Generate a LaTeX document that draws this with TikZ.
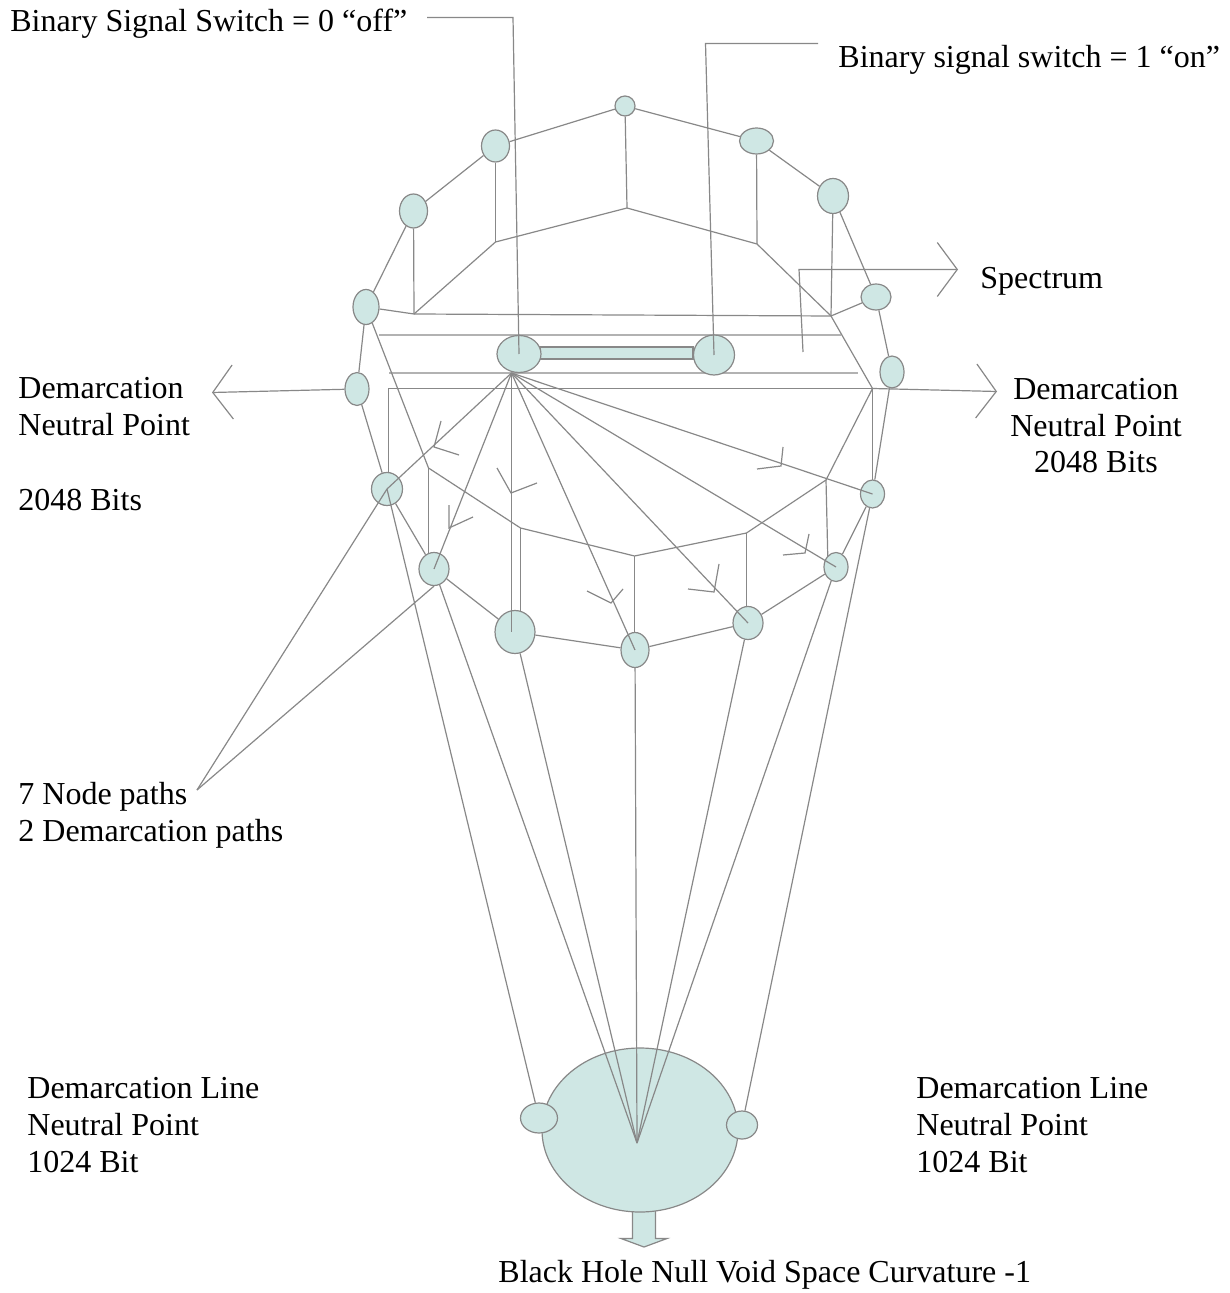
\documentclass[tikz,border=0pt]{standalone}
\usepackage{fontspec}
\setmainfont{Liberation Serif}
\usetikzlibrary{shapes.geometric,arrows.meta,backgrounds}
\definecolor{cellfill}{RGB}{207,231,228}
\definecolor{wire}{RGB}{136,136,136}
\definecolor{railgray}{RGB}{178,178,178}
\begin{document}
\begin{tikzpicture}[x=0.5pt,y=-0.5pt]
	\tikzstyle{cell}=[ellipse,draw=wire,fill=cellfill,line width=0.6pt,inner sep=0pt]
	\tikzstyle{fil}=[draw=wire,line width=0.6pt]
	\tikzstyle{rail}=[draw=railgray,line width=1pt]
	\tikzstyle{lbl}=[inner sep=0pt,font=\fontsize{16}{18.3}\selectfont]
	\tikzstyle{barb}=[-{Straight Barb[length=10pt,width=27pt]}]
	\useasboundingbox (0,0) rectangle (1229,1293);
	% anneau du haut
	\node[cell,minimum width=10pt,minimum height=10pt] (etop) at (625,106) {};
	\node[cell,minimum width=14pt,minimum height=16pt] (eul1) at (495.5,146) {};
	\node[cell,minimum width=17pt,minimum height=13pt] (eur1) at (756.5,141) {};
	\node[cell,minimum width=14pt,minimum height=17pt] (eul2) at (413.5,211) {};
	\node[cell,minimum width=15.5pt,minimum height=17.5pt] (eur2) at (833,196) {};
	\node[cell,minimum width=13pt,minimum height=17.5pt] (eul3) at (366,307) {};
	\node[cell,minimum width=15pt,minimum height=13pt] (eur3) at (876,297) {};
	\node[cell,minimum width=12pt,minimum height=16.5pt] (el4) at (357,389) {};
	\node[cell,minimum width=12pt,minimum height=16pt] (er4) at (892,372) {};
	% anneau du bas
	\node[cell,minimum width=15.5pt,minimum height=16.5pt] (el5) at (387,489) {};
	\node[cell,minimum width=12pt,minimum height=14pt] (er5) at (872.5,494) {};
	\node[cell,minimum width=15pt,minimum height=16.5pt] (el6) at (434,569) {};
	\node[cell,minimum width=20pt,minimum height=21.5pt] (eb1) at (515,632) {};
	\node[cell,minimum width=14pt,minimum height=17.5pt] (eb2) at (635,650) {};
	\node[cell,minimum width=15pt,minimum height=16.5pt] (eb3) at (748,623) {};
	\node[cell,minimum width=12pt,minimum height=14.5pt] (eb4) at (836,567) {};
	% interrupteur
	\draw[fill=cellfill,draw=wire,line width=1pt] (540,347) rectangle (693,359);
	\node[cell,minimum width=22pt,minimum height=18.5pt] (swl) at (519,354) {};
	\node[cell,minimum width=20.5pt,minimum height=20pt] (swr) at (714,355) {};
	% trou noir
	\draw[fill=cellfill,draw=wire,line width=0.6pt] (632.5,1205) -- (632.5,1238.5) -- (621,1238.5) -- (644,1247) -- (667,1238.5) -- (655.5,1238.5) -- (655.5,1205);
	\node[cell,minimum width=98pt,minimum height=82pt] (hole) at (640,1130) {};
	\node[cell,minimum width=18.5pt,minimum height=15pt] (bl) at (539,1118) {};
	\node[cell,minimum width=15.5pt,minimum height=14pt] (br) at (742,1125) {};

	\coordinate (ptop) at (627,208);
	\coordinate (pul1) at (495.5,242);
	\coordinate (pur1) at (757,244);
	\coordinate (pul2) at (414,314);
	\coordinate (pur2) at (831,316);
	\coordinate (ql) at (388.5,388.5);
	\coordinate (qr) at (872.5,388.5);
	\coordinate (pl) at (428.5,468);
	\coordinate (pb1) at (520.5,528);
	\coordinate (pb2) at (634.5,556);
	\coordinate (pb3) at (746.5,533);
	\coordinate (pb4) at (826,480);
	\coordinate (hub) at (511.5,373);
	\coordinate (sink) at (637,1143);
	\coordinate (tipL) at (212,392.5);
	\coordinate (tipR) at (997,391.5);
	\coordinate (tipS) at (958,269.5);
	\coordinate (specA) at (803,352);
	\coordinate (specB) at (799,269.5);
	\coordinate (offA) at (427,17.5);
	\coordinate (offB) at (513,17.5);
	\coordinate (onA) at (818,43.5);
	\coordinate (onB) at (705.5,43.5);
	\coordinate (np) at (197,790);

	\begin{scope}[on background layer]
		\draw[fil] (eul3) -- (eul2) -- (eul1) -- (etop) -- (eur1) -- (eur2) -- (eur3) -- (er4) -- (er5) -- (eb4) -- (eb3) -- (eb2) -- (eb1) -- (el6) -- (el5) -- (el4) -- (eul3);
		\draw[fil] (eul1) -- (pul1);
		\draw[fil] (eul2) -- (pul2);
		\draw[fil] (etop) -- (ptop);
		\draw[fil] (eur1) -- (pur1);
		\draw[fil] (eur2) -- (pur2);
		\draw[fil] (eul3) -- (pul2) -- (pul1) -- (ptop) -- (pur1) -- (pur2) -- (qr);
		\draw[fil] (eur3) -- (pur2) -- (pul2);
		\draw[rail] (379,335) -- (841,335);
		\draw[rail] (389,373) -- (858,373);
		\draw[fil] (ql |- el5.center) -- (ql) -- (qr) -- (qr |- er5.center);
		\draw[fil] (eul3) -- (pl) -- (pb1) -- (pb2) -- (pb3) -- (pb4) -- (qr);
		\draw[fil] (pl) -- (pl |- el6.center);
		\draw[fil] (pb1) -- (pb1 |- eb1.center);
		\draw[fil] (pb2) -- (pb2 |- eb2.center);
		\draw[fil] (pb3) -- (pb3 |- eb3.center);
		\draw[fil] (pb4) -- ([xshift=-4pt]eb4.center);
		\draw[fil,barb] (el4) -- (tipL);
		\draw[fil,barb] (qr) -- (tipR);
		\draw[fil,barb] (specA) -- (specB) -- (tipS);
	\end{scope}

	% chemins
	\foreach \n in {el5,el6,eb2,eb3,eb4,er5}
		\draw[fil] (hub) -- (\n.center);
	\draw[fil] (hub) -- (hub |- eb1.center);
	\foreach \ax/\ay/\bx/\by/\cx/\cy in {434/447/441/421/459/455, 449/528/449/505/473/517, 511/493/497/468/537/483, 611/603/587/591/623/589, 714/592/688/589/719/564, 805/553/783/555/809/534, 781/466/757/469/783/447}
		\draw[fil] (\bx,\by) -- (\ax,\ay) -- (\cx,\cy);
	\draw[fil] (offA) -- (offB) -- (swl.center);
	\draw[fil] (onA) -- (onB) -- (swr.center);
	\draw[fil] (np) -- (el5.center);
	\draw[fil] (np) -- (el6.south);
	\draw[fil] (el5.center) -- (bl);
	\draw[fil] (er5) -- (br);
	\foreach \n in {el6,eb1,eb2,eb3,eb4}
		\draw[fil] (\n) -- (sink);

	% textes (base = derniere ligne)
	\node[lbl,anchor=base west] (txtoff) at (10,32) {Binary Signal Switch = 0 “off”};
	\node[lbl,anchor=base west] (txton) at (838,68) {Binary signal switch = 1 “on”};
	\node[lbl,anchor=base west] (txtspec) at (980,289) {Spectrum};
	\node[lbl,anchor=base west,align=left] (txtdl) at (18,510) {Demarcation\\Neutral Point\\[19pt]2048 Bits};
	\node[lbl,anchor=base,align=center] (txtdr) at (1096,473) {Demarcation\\Neutral Point\\2048 Bits};
	\node[lbl,anchor=base west,align=left] (txtpaths) at (18,841) {7 Node paths\\2 Demarcation paths};
	\node[lbl,anchor=base west,align=left] (txtll) at (27,1172) {Demarcation Line\\Neutral Point\\1024 Bit};
	\node[lbl,anchor=base west,align=left] (txtlr) at (916,1172) {Demarcation Line\\Neutral Point\\1024 Bit};
	\node[lbl,anchor=base west] (txthole) at (498,1282) {Black Hole Null Void Space Curvature -1};
\end{tikzpicture}
\end{document}
